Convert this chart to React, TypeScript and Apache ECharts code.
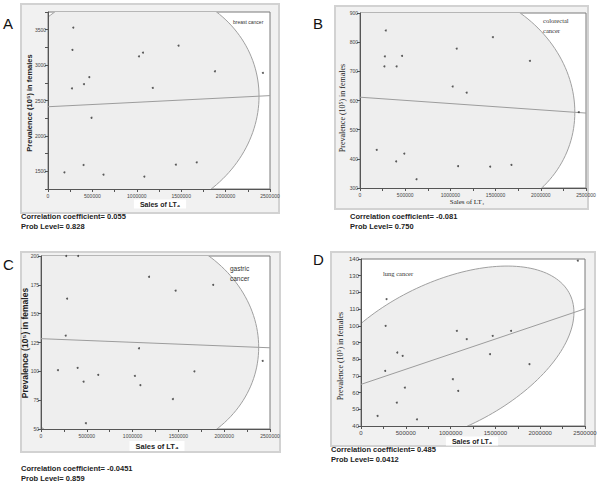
import React, { useEffect, useRef } from "react";
import * as echarts from "echarts";

// Sales of LT4 (x, shared by all four panels)
const salesLT4 = [185000, 270000, 275000, 285000, 400000, 405000, 465000, 490000, 625000, 1025000, 1070000, 1085000, 1180000, 1440000, 1470000, 1675000, 1880000, 2420000];
// Prevalence (10^5) in females
const breastCancer = [1486, 2670, 3215, 3530, 1589, 2730, 2829, 2256, 1453, 3124, 3176, 1425, 2678, 1594, 3275, 1627, 2913, 2890];
const colorectalCancer = [431, 717, 751, 840, 391, 717, 753, 418, 330, 648, 778, 375, 627, 373, 817, 379, 736, 560];
const gastricCancer = [101, 131, 200, 163, 103, 200, 91, 55, 97, 96, 120, 88, 182, 76, 170, 100, 175, 109];
const lungCancer = [46, 73, 100, 116, 54, 84, 82, 63, 44, 68, 97, 61, 92, 83, 94, 97, 77, 139];

const panelLetters = ["A", "B", "C", "D"];
const cancerLabels = ["breast cancer", "colorectal\ncancer", "gastric\ncancer", "lung cancer"];
const correlationTexts = ["Correlation coefficient= 0.055", "Correlation coefficient= -0.081", "Correlation coefficient= -0.0451", "Correlation coefficient= 0.485"];
const probTexts = ["Prob Level= 0.828", "Prob Level= 0.750", "Prob Level= 0.859", "Prob Level= 0.0412"];
const yRanges = [
  { min: 1250, max: 3750, interval: 250, labelStep: 500 },
  { min: 300, max: 900, interval: 100, labelStep: 100 },
  { min: 50, max: 200, interval: 25, labelStep: 25 },
  { min: 40, max: 140, interval: 10, labelStep: 10 },
];
const xRange = { min: 0, max: 2500000, interval: 250000, labelStep: 500000 };
const ellipseChi2 = 4.95; // density ellipse level

const seriesY = [breastCancer, colorectalCancer, gastricCancer, lungCancer];

// layout (pixels)
const layout = [
  { frame: [21, 4, 258, 209], grid: [48, 12, 222, 177], letter: [3, 16], yTitle: [29, 103, 7.5, "bold", "Liberation Sans"], xTitle: [160, 204, 7, "bold", "Liberation Sans", true], label: [233, 18, 5, "Liberation Sans"], corr: [21, 221], tick: 5 },
  { frame: [335, 6, 253, 203], grid: [360, 13, 226, 175], letter: [313, 16], yTitle: [342, 108, 8, "normal", "Liberation Serif"], xTitle: [467, 202, 7, "normal", "Liberation Serif", false], label: [543, 15, 6.5, "Liberation Serif"], corr: [350, 221], tick: 5 },
  { frame: [21, 252, 259, 200], grid: [41, 256, 229, 173], letter: [3, 257], yTitle: [25, 343, 8.5, "bold", "Liberation Sans"], xTitle: [157, 446, 7.5, "bold", "Liberation Sans", true], label: [230, 263, 6.5, "Liberation Sans"], corr: [21, 473], tick: 5 },
  { frame: [331, 252, 264, 194], grid: [361, 259, 224, 167], letter: [313, 252], yTitle: [340, 356, 8, "normal", "Liberation Serif"], xTitle: [472, 441, 7, "bold", "Liberation Sans", true], label: [383, 268, 6.5, "Liberation Serif"], corr: [331, 454], tick: 6 },
];

function computeStats(xs: number[], ys: number[]) {
  const n = xs.length;
  const mx = xs.reduce((a, b) => a + b, 0) / n;
  const my = ys.reduce((a, b) => a + b, 0) / n;
  let sxx = 0, syy = 0, sxy = 0;
  for (let i = 0; i < n; i++) {
    sxx += (xs[i] - mx) ** 2;
    syy += (ys[i] - my) ** 2;
    sxy += (xs[i] - mx) * (ys[i] - my);
  }
  sxx /= n - 1; syy /= n - 1; sxy /= n - 1;
  const slope = sxy / sxx;
  const intercept = my - slope * mx;
  const c = Math.sqrt(ellipseChi2);
  const l11 = Math.sqrt(sxx);
  const l21 = sxy / l11;
  const l22 = Math.sqrt(Math.max(syy - l21 * l21, 0));
  const pts: number[][] = [];
  const steps = 180;
  for (let k = 0; k <= steps; k++) {
    const t = (k / steps) * Math.PI * 2;
    pts.push([mx + c * l11 * Math.cos(t), my + c * (l21 * Math.cos(t) + l22 * Math.sin(t))]);
  }
  return { mx, my, slope, intercept, ellipse: pts };
}

export default function App() {
  const ref = useRef<HTMLDivElement>(null);
  useEffect(() => {
    if (!ref.current) return;
    const chart = echarts.init(ref.current, null, { renderer: "svg" });
    const grids: any[] = [];
    const xAxes: any[] = [];
    const yAxes: any[] = [];
    const series: any[] = [];
    const graphics: any[] = [];

    seriesY.forEach((ys, i) => {
      const L = layout[i];
      const st = computeStats(salesLT4, ys);
      const yr = yRanges[i];
      grids.push({
        left: L.grid[0], top: L.grid[1], width: L.grid[2], height: L.grid[3],
        show: true, backgroundColor: "#ffffff", borderColor: "#7a7a7a", borderWidth: 1, z: 1,
      });
      xAxes.push({
        type: "value", gridIndex: i, min: xRange.min, max: xRange.max, interval: xRange.interval,
        axisLine: { show: true, lineStyle: { color: "#555", width: 1 } },
        axisTick: { show: true, length: 3, lineStyle: { color: "#555" } },
        splitLine: { show: false },
        axisLabel: {
          fontSize: L.tick, color: "#444", margin: 4, fontFamily: "Liberation Sans",
          formatter: (v: number) => (v % xRange.labelStep === 0 ? String(v) : ""),
        },
        z: 3,
      });
      yAxes.push({
        type: "value", gridIndex: i, min: yr.min, max: yr.max, interval: yr.interval,
        axisLine: { show: true, lineStyle: { color: "#555", width: 1 } },
        axisTick: { show: true, length: 3, lineStyle: { color: "#555" } },
        splitLine: { show: false },
        axisLabel: {
          fontSize: L.tick, color: "#444", margin: 2, fontFamily: "Liberation Sans",
          formatter: (v: number) => (v % yr.labelStep === 0 ? String(v) : ""),
        },
        z: 3,
      });
      const ell = st.ellipse;
      series.push({
        type: "custom", xAxisIndex: i, yAxisIndex: i, clip: true, silent: true, z: 2,
        data: [[st.mx, st.my]],
        renderItem: (params: any, api: any) => {
          const cs = params.coordSys;
          return {
            type: "polygon",
            shape: { points: ell.map((p) => api.coord(p)) },
            style: { fill: "#eeeeee", stroke: "#a0a0a0", lineWidth: 1 },
            clipPath: { type: "rect", shape: { x: cs.x, y: cs.y, width: cs.width, height: cs.height } },
          };
        },
      });
      series.push({
        type: "line", xAxisIndex: i, yAxisIndex: i, symbol: "none", silent: true, z: 3,
        lineStyle: { color: "#9c9c9c", width: 1 },
        data: [[xRange.min, st.intercept + st.slope * xRange.min], [xRange.max, st.intercept + st.slope * xRange.max]],
      });
      series.push({
        type: "scatter", xAxisIndex: i, yAxisIndex: i, symbolSize: 2, z: 4,
        itemStyle: { color: "#333" },
        data: salesLT4.map((x, k) => [x, ys[k]]),
      });

      graphics.push({
        type: "rect", z: -100, shape: { x: L.frame[0], y: L.frame[1], width: L.frame[2], height: L.frame[3] },
        style: { fill: "#f1f1f1", stroke: "#d2d2d2", lineWidth: 2 },
      });
      graphics.push({
        type: "text", z: 100, x: L.letter[0], y: L.letter[1],
        style: { text: panelLetters[i], fontSize: 15, fontFamily: "Liberation Sans", fill: "#111" },
      });
      graphics.push({
        type: "text", z: 100, x: L.yTitle[0], y: L.yTitle[1], rotation: Math.PI / 2,
        style: {
          text: "Prevalence (10⁵) in females", fontSize: L.yTitle[2], fontWeight: L.yTitle[3],
          fontFamily: L.yTitle[4], fill: "#222", align: "center", verticalAlign: "middle",
        },
      });
      graphics.push({
        type: "text", z: 100, x: L.xTitle[0], y: L.xTitle[1],
        style: {
          text: "Sales of LT₄", fontSize: L.xTitle[2], fontWeight: L.xTitle[3], fontFamily: L.xTitle[4],
          fill: "#222", align: "center", verticalAlign: "middle",
          backgroundColor: L.xTitle[5] ? "#ffffff" : undefined, padding: L.xTitle[5] ? [1, 6] : 0,
        },
      });
      graphics.push({
        type: "text", z: 100, x: L.label[0], y: L.label[1],
        style: {
          text: cancerLabels[i], fontSize: L.label[2], fontFamily: L.label[3], fill: "#333",
          verticalAlign: "top", lineHeight: L.label[2] * 1.6,
        },
      });
      graphics.push({
        type: "text", z: 100, x: L.corr[0], y: L.corr[1],
        style: {
          text: correlationTexts[i] + "\n" + probTexts[i], fontSize: 7.5, fontWeight: "bold",
          fontFamily: "Liberation Sans", fill: "#222", verticalAlign: "middle", lineHeight: 10,
        },
      });
    });

    chart.setOption({
      animation: false,
      backgroundColor: "#ffffff",
      grid: grids,
      xAxis: xAxes,
      yAxis: yAxes,
      series,
      graphic: { elements: graphics },
    });
    return () => chart.dispose();
  }, []);
  return <div ref={ref} style={{ position: "absolute", left: 0, top: 0, width: 600, height: 483 }} />;
}
